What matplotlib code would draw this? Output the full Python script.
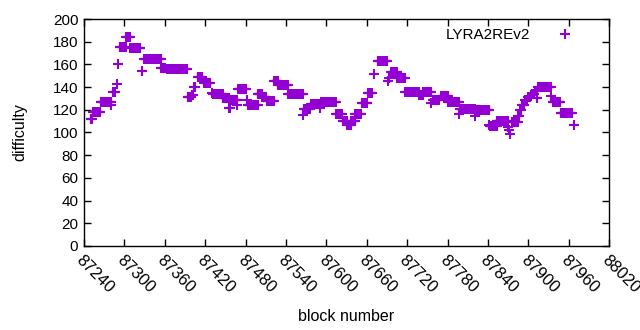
import numpy as np
import matplotlib
matplotlib.use("Agg")
import matplotlib.pyplot as plt

plt.rcParams["font.family"] = ["Liberation Sans", "DejaVu Sans"]

# difficulty runs: first block, last block, difficulty
run_start = [87250, 87254, 87265, 87280, 87284, 87289, 87291, 87293, 87303, 87309,
             87326, 87330, 87341, 87355, 87363, 87394, 87400, 87404, 87409, 87419,
             87430, 87431, 87446, 87456, 87459, 87468, 87469, 87482, 87483, 87498,
             87505, 87512, 87523, 87528, 87543, 87566, 87567, 87577, 87590, 87592,
             87615, 87624, 87631, 87637, 87643, 87653, 87662, 87671, 87676, 87692,
             87693, 87696, 87705, 87717, 87737, 87744, 87756, 87758, 87770, 87781,
             87797, 87799, 87820, 87822, 87842, 87843, 87853, 87870, 87871, 87872,
             87876, 87885, 87888, 87891, 87895, 87900, 87905, 87909, 87912, 87914,
             87934, 87937, 87948, 87968]
run_end = [87252, 87264, 87280, 87280, 87286, 87289, 87291, 87302, 87308, 87324,
           87327, 87340, 87354, 87361, 87393, 87399, 87402, 87405, 87416, 87428,
           87430, 87446, 87456, 87457, 87468, 87468, 87481, 87482, 87498, 87505,
           87511, 87523, 87528, 87543, 87565, 87566, 87575, 87590, 87590, 87614,
           87623, 87630, 87636, 87643, 87651, 87660, 87668, 87671, 87690, 87692,
           87693, 87705, 87717, 87737, 87743, 87756, 87756, 87767, 87781, 87797,
           87797, 87820, 87820, 87842, 87842, 87853, 87869, 87870, 87871, 87872,
           87884, 87886, 87889, 87893, 87898, 87903, 87908, 87912, 87913, 87933,
           87934, 87947, 87965, 87968]
run_value = [112, 118, 127, 124, 136, 143, 160, 175.5, 184, 174.5,
             154, 164.5, 165.2, 157, 155.7, 131, 133, 140, 149, 144,
             134.5, 134, 130, 122, 129, 124, 138.7, 129, 124.5, 134,
             131, 128, 145, 142, 134, 115.7, 121, 125, 122, 127,
             116, 110, 107, 110, 116, 126, 135, 152, 163.4, 145,
             148, 153.7, 148, 136, 133, 136, 126, 129, 132.5, 127,
             116.5, 121, 114.5, 119.7, 107, 106, 110, 105, 102, 99,
             109, 114.5, 120, 124.5, 129, 131, 134, 137, 130, 140.4,
             132, 127, 117.4, 107]

blocks = []
difficulty = []
for s, e, v in zip(run_start, run_end, run_value):
    for b in range(s, e + 1):
        blocks.append(b)
        difficulty.append(v)

fig = plt.figure(figsize=(6.4, 3.3), dpi=100)
ax = fig.add_axes([0.131, 0.255, 0.821, 0.687])

ax.plot(blocks, difficulty, linestyle="none", marker="+", markersize=7,
        markeredgewidth=1.5, color="#9400d3", label="LYRA2REv2")

ax.set_xlim(87240, 88020)
ax.set_ylim(0, 200)
ax.set_xticks(np.arange(87240, 88021, 60))
ax.set_yticks(np.arange(0, 201, 20))
ax.tick_params(direction="in", length=5, width=1, top=True, right=True, pad=4)
ax.tick_params(axis="y", labelsize=11)
ax.tick_params(axis="x", labelsize=12, pad=5)
for lbl in ax.get_xticklabels():
    lbl.set_rotation(-45)
    lbl.set_ha("left")
    lbl.set_va("top")
    lbl.set_rotation_mode("anchor")
for sp in ax.spines.values():
    sp.set_linewidth(1)

ax.set_xlabel("block number", fontsize=11.5, labelpad=9)
ax.set_ylabel("difficulty", fontsize=11.5, labelpad=18)

ax.legend(loc="upper right", frameon=False, markerfirst=False, fontsize=11,
          handlelength=2.2, handletextpad=1.2, borderaxespad=0.2,
          bbox_to_anchor=(0.965, 1.0))

fig.savefig("out.png", dpi=100)
